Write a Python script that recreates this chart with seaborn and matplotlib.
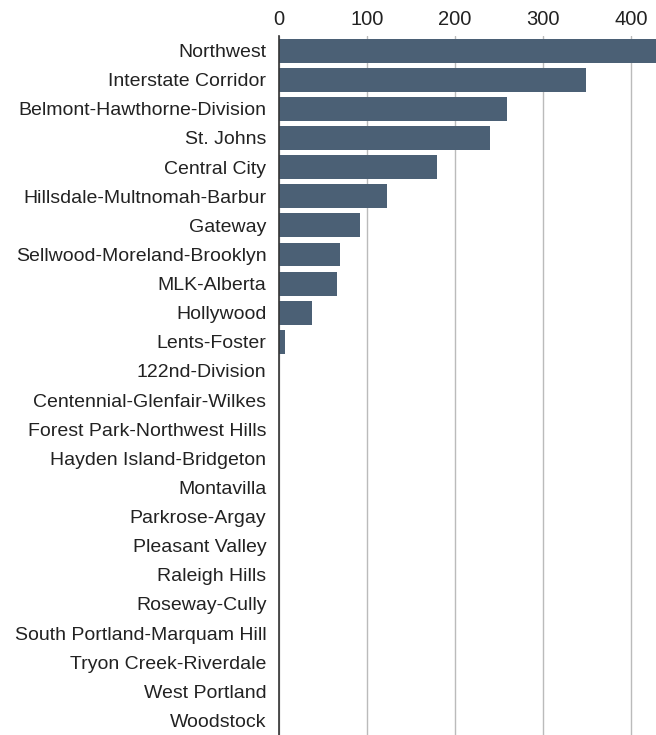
import matplotlib
matplotlib.use("Agg")
import matplotlib.pyplot as plt
import seaborn as sns
import pandas as pd

categories = ["Northwest", "Interstate Corridor", "Belmont-Hawthorne-Division", "St. Johns",
              "Central City", "Hillsdale-Multnomah-Barbur", "Gateway", "Sellwood-Moreland-Brooklyn",
              "MLK-Alberta", "Hollywood", "Lents-Foster", "122nd-Division",
              "Centennial-Glenfair-Wilkes", "Forest Park-Northwest Hills", "Hayden Island-Bridgeton",
              "Montavilla", "Parkrose-Argay", "Pleasant Valley", "Raleigh Hills", "Roseway-Cully",
              "South Portland-Marquam Hill", "Tryon Creek-Riverdale", "West Portland", "Woodstock"]
values = [430, 348, 259, 240, 179, 123, 92, 69, 66, 38, 6.5, 0,
          0, 0, 0, 0, 0, 0, 0, 0, 0, 0, 0, 0]
xticks = [0, 100, 200, 300, 400]

df = pd.DataFrame({"area": categories, "value": values})

sns.set_theme(style="white")
plt.rcParams['font.family'] = ['Liberation Sans', 'DejaVu Sans']

fig = plt.figure(figsize=(6.56, 7.35), dpi=100)
ax = fig.add_axes([0.4253, 0.0, 0.5747, 0.951])
sns.barplot(data=df, x="value", y="area", color="#4b6075", saturation=1, width=0.82,
            linewidth=0, ax=ax, zorder=3)

ax.set_xlim(0, 428)
ax.set_ylim(len(categories) - 0.5, -0.5)
ax.set_xticks(xticks)
ax.xaxis.tick_top()
ax.xaxis.set_label_position("top")
ax.tick_params(axis="x", length=0, labelsize=14.5, pad=5, colors="#222222")
ax.tick_params(axis="y", length=0, labelsize=14, pad=9, colors="#222222")
ax.grid(axis="x", color="#bbbbbb", linewidth=1, zorder=0)
ax.set_xlabel("")
ax.set_ylabel("")
for s in ["top", "right", "bottom"]:
    ax.spines[s].set_visible(False)
ax.spines["left"].set_color("#333333")
ax.spines["left"].set_linewidth(1.2)
ax.spines["left"].set_zorder(4)

fig.savefig("out.png", dpi=100)
